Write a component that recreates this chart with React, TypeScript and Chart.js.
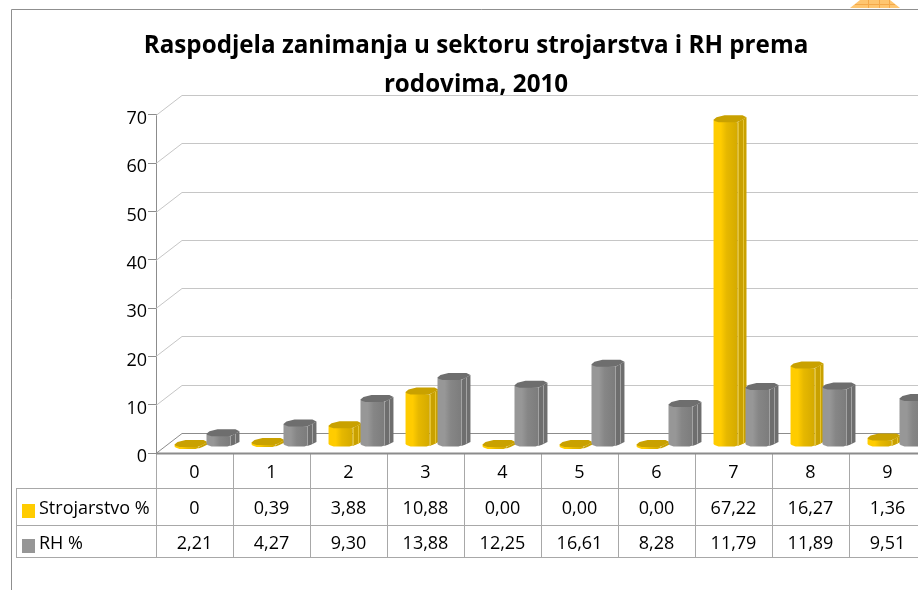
import React, { useEffect, useRef } from "react";
import { Chart, registerables } from "chart.js";

Chart.register(...registerables);

const categories = ["0", "1", "2", "3", "4", "5", "6", "7", "8", "9"];
const strojarstvo = [0, 0.39, 3.88, 10.88, 0, 0, 0, 67.22, 16.27, 1.36];
const rh = [2.21, 4.27, 9.3, 13.88, 12.25, 16.61, 8.28, 11.79, 11.89, 9.51];
const strojarstvoLabels = ["0", "0,39", "3,88", "10,88", "0,00", "0,00", "0,00", "67,22", "16,27", "1,36"];
const rhLabels = ["2,21", "4,27", "9,30", "13,88", "12,25", "16,61", "8,28", "11,79", "11,89", "9,51"];
const seriesNames = ["Strojarstvo %", "RH %"];
const titleLines = ["Raspodjela zanimanja u sektoru strojarstva i RH prema", "rodovima, 2010"];

const FONT = '"Open Sans", sans-serif';
const YELLOW = ["#ffcc00", "#e6b800", "#d4aa00", "#c9a100", "#e6c433"];
const GREY = ["#979797", "#868686", "#7c7c7c", "#6e6e6e", "#a3a3a3"];

const DEPTH_X = 26;
const DEPTH_Y = 20;
const SHIFT_X = 8;
const SHIFT_Y = 8.5;
const ROWS = [488, 524.5, 557];
const TABLE_LEFT = 16;

const bar3d = {
  id: "bar3d",
  beforeDraw(chart: any) {
    const { ctx, width, height } = chart;
    ctx.save();
    ctx.fillStyle = "#ffffff";
    ctx.fillRect(0, 0, width, height);
    // ornament clipped by the top of the picture
    ctx.fillStyle = "#ffc670";
    ctx.beginPath();
    ctx.moveTo(860, 0);
    ctx.lineTo(890, 0);
    ctx.lineTo(900, 8);
    ctx.lineTo(850, 8);
    ctx.closePath();
    ctx.fill();
    ctx.strokeStyle = "#f5a94a";
    ctx.lineWidth = 1;
    ctx.beginPath();
    [868.5, 879.5, 889.5].forEach((x) => {
      ctx.moveTo(x, 0);
      ctx.lineTo(x, 8);
    });
    ctx.moveTo(855, 4.5);
    ctx.lineTo(895, 4.5);
    ctx.stroke();
    // chart frame
    ctx.strokeStyle = "#8f8f8f";
    ctx.beginPath();
    ctx.moveTo(11.5, height);
    ctx.lineTo(11.5, 9.5);
    ctx.lineTo(width, 9.5);
    ctx.stroke();
    ctx.restore();
  },
  beforeDatasetsDraw(chart: any) {
    const { ctx, scales, width } = chart;
    const y = scales.y;
    const left = y.right;
    ctx.save();
    ctx.lineWidth = 1;
    [0, 10, 20, 30, 40, 50, 60, 70].forEach((v) => {
      const py = Math.round(y.getPixelForValue(v)) + 0.5;
      ctx.strokeStyle = v === 0 ? "#8c8c8c" : "#c6c6c6";
      ctx.beginPath();
      ctx.moveTo(left, py);
      ctx.lineTo(left + DEPTH_X, py - DEPTH_Y);
      ctx.lineTo(width, py - DEPTH_Y);
      ctx.stroke();
    });
    ctx.restore();
  },
  beforeDatasetDraw() {
    return false;
  },
  afterDatasetsDraw(chart: any) {
    const { ctx } = chart;
    ctx.save();
    categories.forEach((_, i) => {
      [0, 1].forEach((d) => {
        const el = chart.getDatasetMeta(d).data[i];
        const tone = d === 0 ? YELLOW : GREY;
        const x0 = el.x - el.width / 2 + SHIFT_X;
        const top = el.y - SHIFT_Y;
        const rawBase = el.base - SHIFT_Y;
        const base = Math.max(rawBase, top + 2);
        const w = el.width;
        const g = ctx.createLinearGradient(x0, 0, x0 + w, 0);
        g.addColorStop(0, tone[0]);
        g.addColorStop(0.3, tone[0]);
        g.addColorStop(0.55, tone[1]);
        g.addColorStop(1, tone[2]);
        ctx.fillStyle = g;
        ctx.beginPath();
        ctx.moveTo(x0, top);
        ctx.lineTo(x0 + w, top + 2.5);
        ctx.lineTo(x0 + w, base + 1.5);
        ctx.lineTo(x0 + w - 3, base + 2.5);
        ctx.lineTo(x0 + 5, base + 2.5);
        ctx.lineTo(x0 + 1, base + 1);
        ctx.lineTo(x0, base);
        ctx.closePath();
        ctx.fill();
        ctx.fillStyle = tone[3];
        ctx.beginPath();
        ctx.moveTo(x0 + w, top + 2.5);
        ctx.lineTo(x0 + w + 9, top - 2.5);
        ctx.lineTo(x0 + w + 9, base - 2);
        ctx.lineTo(x0 + w + 4, base + 0.5);
        ctx.lineTo(x0 + w, base + 2);
        ctx.closePath();
        ctx.fill();
        if (rawBase - top > 4) {
          ctx.strokeStyle = tone[4];
          ctx.lineWidth = 1;
          ctx.beginPath();
          ctx.moveTo(Math.round(x0 + w) + 0.5, top + 2.5);
          ctx.lineTo(Math.round(x0 + w) + 0.5, base + 1.5);
          ctx.moveTo(Math.round(x0 + w) + 5.5, top);
          ctx.lineTo(Math.round(x0 + w) + 5.5, base - 0.5);
          ctx.stroke();
        }
        ctx.fillStyle = tone[3];
        ctx.beginPath();
        ctx.moveTo(x0, top);
        ctx.lineTo(x0 + 3, top - 2.5);
        ctx.lineTo(x0 + 11, top - 4.5);
        ctx.lineTo(x0 + w + 5, top - 4.5);
        ctx.lineTo(x0 + w + 9, top - 2.5);
        ctx.lineTo(x0 + w + 3, top + 1);
        ctx.lineTo(x0 + w - 1, top + 2.5);
        ctx.lineTo(x0 + 5, top + 2.5);
        ctx.lineTo(x0 + 1, top + 1.2);
        ctx.closePath();
        ctx.fill();
      });
    });
    ctx.restore();
  },
  afterDraw(chart: any) {
    const { ctx, scales, width } = chart;
    const x = scales.x;
    const y = scales.y;
    const bottom = Math.round(y.getPixelForValue(0));
    const left = Math.round(y.right);
    const step = x.getPixelForValue(1) - x.getPixelForValue(0);
    ctx.save();
    ctx.strokeStyle = "#a8a8a8";
    ctx.lineWidth = 1;
    ctx.beginPath();
    ROWS.forEach((py) => {
      ctx.moveTo(TABLE_LEFT, Math.round(py) + 0.5);
      ctx.lineTo(width, Math.round(py) + 0.5);
    });
    ctx.moveTo(TABLE_LEFT + 0.5, ROWS[0]);
    ctx.lineTo(TABLE_LEFT + 0.5, ROWS[2] + 0.5);
    ctx.moveTo(left + 0.5, bottom);
    ctx.lineTo(left + 0.5, ROWS[2] + 0.5);
    categories.forEach((_, i) => {
      const px = Math.round(x.getPixelForValue(i) + step / 2) + 0.5;
      ctx.moveTo(px, bottom);
      ctx.lineTo(px, ROWS[2] + 0.5);
    });
    ctx.stroke();
    ctx.strokeStyle = "#8c8c8c";
    ctx.lineWidth = 2;
    ctx.beginPath();
    ctx.moveTo(left, bottom + 0.5);
    ctx.lineTo(width, bottom + 0.5);
    ctx.stroke();

    ctx.font = `18px ${FONT}`;
    ctx.textBaseline = "middle";
    ctx.fillStyle = "#000000";
    const rows = [strojarstvoLabels, rhLabels];
    rows.forEach((labels, r) => {
      const cy = (ROWS[r] + ROWS[r + 1]) / 2 + 3;
      ctx.textAlign = "center";
      labels.forEach((t, i) => ctx.fillText(t, x.getPixelForValue(i), cy));
      ctx.textAlign = "left";
      ctx.fillStyle = r === 0 ? "#ffcc00" : "#969696";
      ctx.fillRect(22, Math.round(cy) - 5, 13, 14);
      ctx.fillStyle = "#000000";
      ctx.fillText(seriesNames[r], 39, cy);
    });
    ctx.restore();
  },
};

export default function App() {
  const ref = useRef<HTMLCanvasElement | null>(null);
  useEffect(() => {
    const chart = new Chart(ref.current as HTMLCanvasElement, {
      type: "bar",
      data: {
        labels: categories,
        datasets: [
          { label: seriesNames[0], data: strojarstvo, backgroundColor: "#ffcc00", categoryPercentage: 0.83, barPercentage: 0.75 },
          { label: seriesNames[1], data: rh, backgroundColor: "#969696", categoryPercentage: 0.83, barPercentage: 0.75 },
        ],
      },
      options: {
        responsive: false,
        animation: false,
        layout: { padding: { left: 26, right: 26, top: 0, bottom: 0 } },
        plugins: {
          legend: { display: false },
          tooltip: { enabled: false },
          title: {
            display: true,
            text: titleLines,
            color: "#000000",
            font: { family: FONT, size: 24.2, weight: "bold", lineHeight: 1.61 },
            padding: { top: 27, bottom: 10 },
          },
        },
        scales: {
          x: {
            grid: { display: false, drawTicks: false },
            border: { display: false },
            ticks: { color: "#000000", font: { family: FONT, size: 18 }, padding: 9, maxRotation: 0 },
            afterFit(s: any) {
              s.height = 137;
            },
          },
          y: {
            min: 0,
            max: 70,
            grid: { drawOnChartArea: false, drawTicks: true, tickLength: 8, color: "#8c8c8c" },
            border: { display: true, color: "#8c8c8c" },
            ticks: { stepSize: 10, color: "#000000", font: { family: FONT, size: 18 }, padding: 1, labelOffset: 4 },
            afterFit(s: any) {
              s.width = 130;
            },
          },
        },
      },
      plugins: [bar3d],
    } as any);
    return () => chart.destroy();
  }, []);
  return (
    <div style={{ position: "fixed", left: 0, top: 0, width: 918, height: 590, overflow: "hidden", background: "#fff" }}>
      <canvas ref={ref} width={952} height={590} style={{ display: "block" }} />
    </div>
  );
}
